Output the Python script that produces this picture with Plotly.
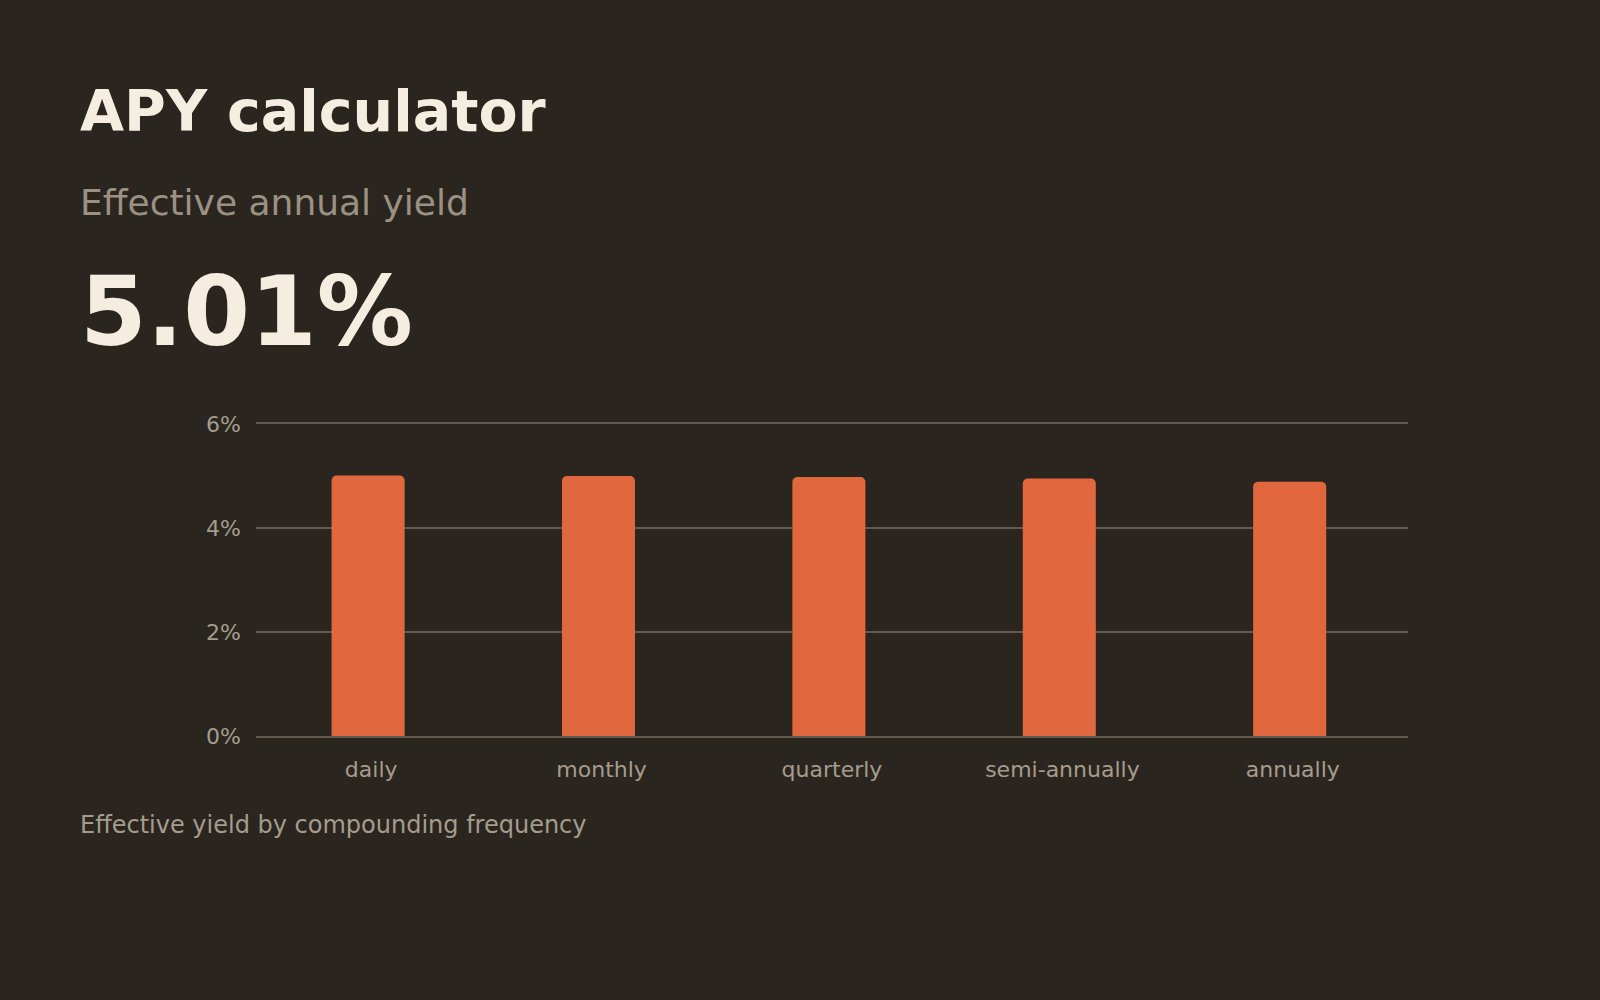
import plotly.graph_objects as go

# 复利频率与实际年化收益率 (%)
frequencies = ["daily", "monthly", "quarterly", "semi-annually", "annually"]
apy_values = [5.01, 5.00, 4.98, 4.95, 4.89]
y_ticks = [0, 2, 4, 6]
y_tick_labels = ["0%", "2%", "4%", "6%"]

headline = "APY calculator"
subtitle = "Effective annual yield"
big_value = "5.01%"
caption = "Effective yield by compounding frequency"

BG = "#2b251f"
CREAM = "#f5ede0"
MUTED = "#9b9183"
TICK = "#a59c8e"
GRID = "#625a50"
BAR = "#e1683e"
FONT = "DejaVu Sans"

W, H = 1600, 1000
M_L, M_R, M_T, M_B = 256, 192, 424, 264
plot_w = W - M_L - M_R
plot_h = H - M_T - M_B


def px_x(x):
    return (x - M_L) / plot_w


def px_y(y):
    return (H - M_B - y) / plot_h


fig = go.Figure()
fig.add_trace(
    go.Bar(
        x=frequencies,
        y=apy_values,
        width=0.317,
        offset=-0.172,
        marker=dict(color=BAR, cornerradius=5, line=dict(width=0)),
        hoverinfo="skip",
    )
)

# 文字标注（标题、副标题、大数字、说明）
texts = [
    (headline, 57, CREAM, True, 146),
    (subtitle, 36, MUTED, False, 225),
    (big_value, 96, CREAM, True, 370),
    (caption, 24, TICK, False, 841),
]
for txt, size, color, bold, bottom in texts:
    fig.add_annotation(
        text=f"<b>{txt}</b>" if bold else txt,
        xref="paper",
        yref="paper",
        x=px_x(78),
        y=px_y(bottom),
        xanchor="left",
        yanchor="bottom",
        showarrow=False,
        font=dict(family=FONT, size=size, color=color),
    )

fig.update_layout(
    width=W,
    height=H,
    margin=dict(l=M_L, r=M_R, t=M_T, b=M_B),
    paper_bgcolor=BG,
    plot_bgcolor=BG,
    showlegend=False,
    font=dict(family=FONT, color=TICK, size=22),
)
# x 轴上下边线充当 0% 和 6% 网格线
fig.update_xaxes(
    showgrid=False,
    showline=True,
    mirror=True,
    linecolor=GRID,
    linewidth=1.5,
    zeroline=False,
    ticks="",
    ticklabelstandoff=13,
    tickfont=dict(size=22, color=TICK),
)
fig.update_yaxes(
    range=[0, 6],
    tickvals=y_ticks,
    ticktext=y_tick_labels,
    showgrid=True,
    gridcolor=GRID,
    gridwidth=1.5,
    zeroline=False,
    showline=False,
    ticks="",
    ticklabelstandoff=14,
    tickfont=dict(size=22, color=TICK),
)

fig.write_html(
    "out.html",
    config={"displayModeBar": False},
    post_script="document.body.style.margin='0';document.body.style.background='" + BG + "';",
)
